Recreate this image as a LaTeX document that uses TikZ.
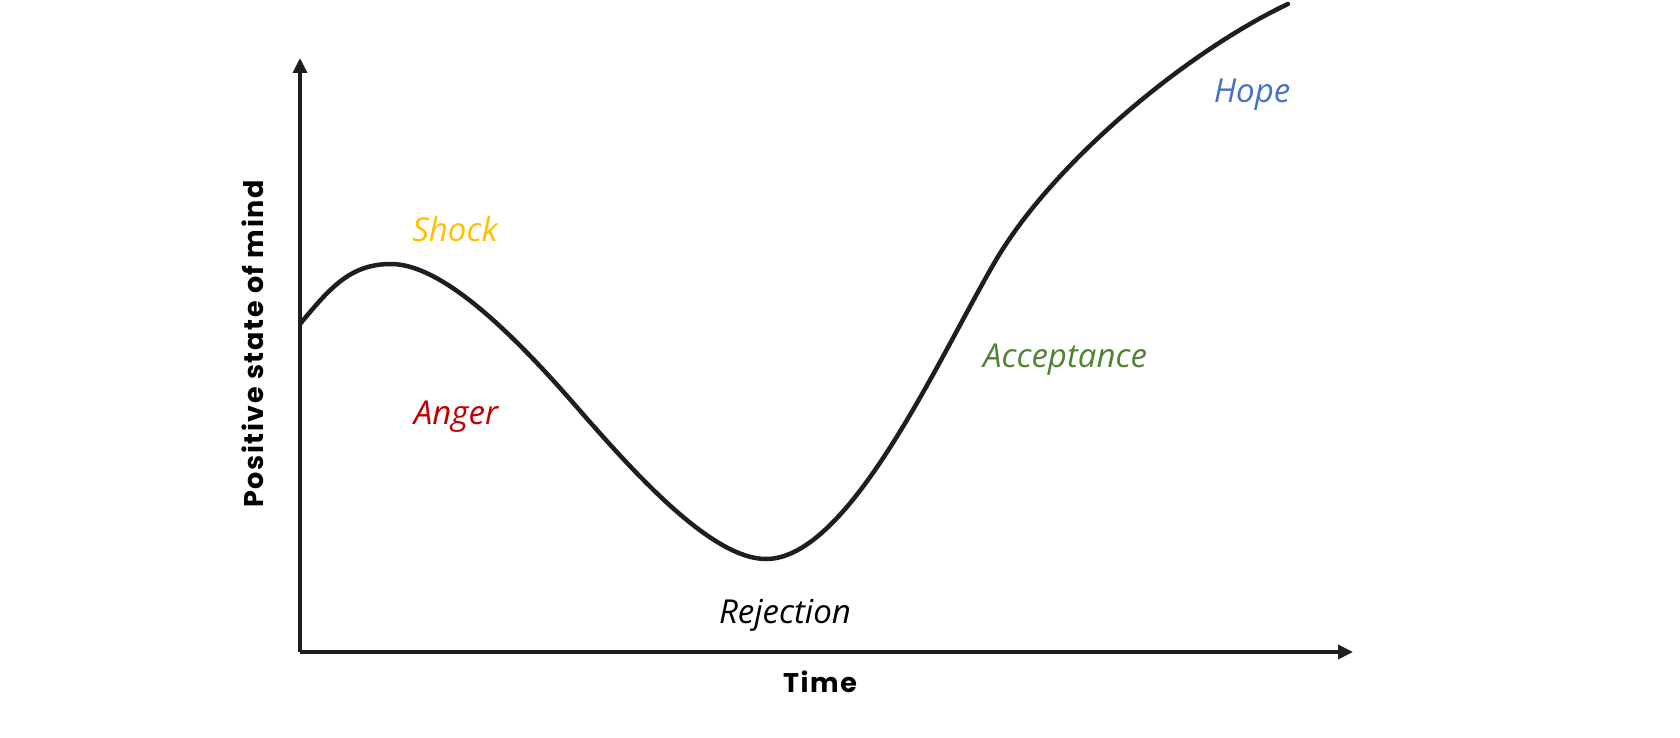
\documentclass[tikz,border=0pt]{standalone}
\usepackage{fontspec}
\usepackage{xcolor}
\usepackage{tikz}
\usetikzlibrary{arrows.meta}
\newfontfamily\axisfont[LetterSpace=6]{Poppins}
\newfontfamily\handfont{Open Sans}

\definecolor{shockc}{HTML}{FFC000}
\definecolor{angerc}{HTML}{C00000}
\definecolor{acceptc}{HTML}{548235}
\definecolor{hopec}{HTML}{4472C4}
\definecolor{linec}{HTML}{1E1E1E}

\tikzset{
	axis/.style={line width=3.5pt, draw=linec, -{Triangle[length=15pt,width=14pt]}},
	axislabel/.style={font=\axisfont\bfseries\fontsize{27}{31}\selectfont, text=black},
	stage/.style={font=\handfont\itshape\fontsize{33}{38}\selectfont}
}

\begin{document}
\begin{tikzpicture}[x=1pt,y=-1pt]
\useasboundingbox (0,0) rectangle (1680,738);

% axes
\coordinate (o) at (300,652);
\coordinate (ytop) at (300,58);
\coordinate (xend) at (1353,652);
\draw[axis] (o) -- (ytop);
\draw[axis] (o) -- (xend);

\node[axislabel, rotate=90] (ylab) at (253,344) {Positive state of mind};
\node[axislabel] (xlab) at (820,682) {Time};

% curve
\coordinate (start) at (300,324);
\coordinate (peak) at (391,264);
\coordinate (fall) at (575,405);
\coordinate (low) at (766,559);
\coordinate (rise) at (996,260);
\coordinate (finish) at (1288,4);
\draw[line width=4.5pt, draw=linec, line cap=round]
	(start) .. controls (330,288) and (350,264) .. (peak)
	.. controls (445,264) and (520,342) .. (fall)
	.. controls (630,468) and (710,559) .. (low)
	.. controls (850,559) and (940,355) .. (rise)
	.. controls (1055,160) and (1190,50) .. (finish);

% stages
\node[stage, text=shockc] (shock) at (455,229) {Shock};
\node[stage, text=angerc] (anger) at (456,417) {Anger};
\node[stage, text=black] (rejection) at (785,615) {Rejection};
\node[stage, text=acceptc] (acceptance) at (1065,360) {Acceptance};
\node[stage, text=hopec] (hope) at (1252,95) {Hope};
\end{tikzpicture}
\end{document}
